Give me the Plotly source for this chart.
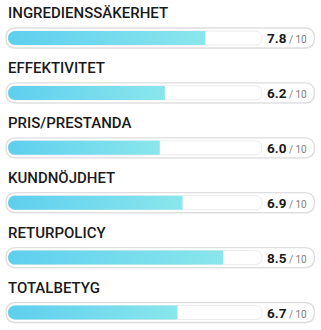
import numpy as np
import plotly.graph_objects as go

categories = ["INGREDIENSSÄKERHET", "EFFEKTIVITET", "PRIS/PRESTANDA",
              "KUNDNÖJDHET", "RETURPOLICY", "TOTALBETYG"]
scores = [7.8, 6.2, 6.0, 6.9, 8.5, 6.7]
max_score = 10

W, H = 321, 330
track_left_px, track_right_px = 8, 261
ppu = (track_right_px - track_left_px) / max_score
x_min = -track_left_px / ppu
x_max = (W - track_left_px) / ppu

row0, row_gap = 38, 54.9
label_off = -25
track_h, cont_h = 14, 20


def px2paper(px):
    return px / W


def rounded_poly(x0, x1, y0, y1, rx, ry, n=10):
    xs, ys = [], []
    t = np.linspace(np.pi / 2, 3 * np.pi / 2, n)
    cx, cy = x0 + rx, (y0 + y1) / 2
    for a in t:
        xs.append(cx + rx * np.cos(a))
        ys.append(cy - ry * np.sin(a))
    xs += [x1, x1]
    ys += [y1, y0]
    xs.append(xs[0])
    ys.append(ys[0])
    return xs, ys


def shape_path(x0p, x1p, yc, h, r):
    y0, y1 = yc - h / 2, yc + h / 2
    rx = r / W
    a = x0p + rx
    b = x1p - rx
    return (f"M {a},{y0} L {b},{y0} Q {x1p},{y0} {x1p},{y0 + r} "
            f"L {x1p},{y1 - r} Q {x1p},{y1} {b},{y1} L {a},{y1} "
            f"Q {x0p},{y1} {x0p},{y1 - r} L {x0p},{y0 + r} Q {x0p},{y0} {a},{y0} Z")


fig = go.Figure()
shapes = []
annotations = []

for i, (cat, val) in enumerate(zip(categories, scores)):
    yc = row0 + i * row_gap
    shapes.append(dict(type="path", xref="paper", yref="y",
                       path=shape_path(px2paper(6), px2paper(315), yc + 1, cont_h, 10),
                       fillcolor="rgba(0,0,0,0.05)", line=dict(width=0), layer="below"))
    shapes.append(dict(type="path", xref="paper", yref="y",
                       path=shape_path(px2paper(6), px2paper(314.5), yc, cont_h, 10),
                       fillcolor="white", line=dict(color="#dedede", width=1.3), layer="below"))
    shapes.append(dict(type="path", xref="paper", yref="y",
                       path=shape_path(px2paper(8.5), px2paper(262), yc, track_h, 7),
                       fillcolor="white", line=dict(color="#ececec", width=1), layer="below"))
    rx = 7 / ppu
    xs, ys = rounded_poly(0, val, yc - track_h / 2, yc + track_h / 2, rx, track_h / 2)
    fig.add_trace(go.Scatter(
        x=xs, y=ys, mode="lines", fill="toself", line=dict(width=0),
        fillgradient=dict(type="horizontal",
                          colorscale=[[0, "#5ecfee"], [1, "#8ae6ec"]]),
        hoverinfo="skip", showlegend=False))
    annotations.append(dict(xref="paper", yref="y", x=px2paper(5.5), y=yc + label_off,
                            xanchor="left", yanchor="middle", showarrow=False,
                            text=cat,
                            font=dict(family="Roboto", size=15, color="#1a1a1a", weight=500)))
    annotations.append(dict(xref="paper", yref="y", x=px2paper(265), y=yc,
                            xanchor="left", yanchor="middle", showarrow=False,
                            text=f"<b>{val:.1f}</b><span style='font-size:10px;color:#808080'>&nbsp;/ {max_score}</span>",
                            font=dict(family="Roboto", size=13.5, color="#1a1a1a")))

fig.update_layout(
    width=W, height=H, margin=dict(l=0, r=0, t=0, b=0),
    paper_bgcolor="white", plot_bgcolor="white",
    xaxis=dict(range=[x_min, x_max], visible=False, fixedrange=True),
    yaxis=dict(range=[H, 0], visible=False, fixedrange=True),
    shapes=shapes, annotations=annotations,
)

fig.write_html("out.html")
